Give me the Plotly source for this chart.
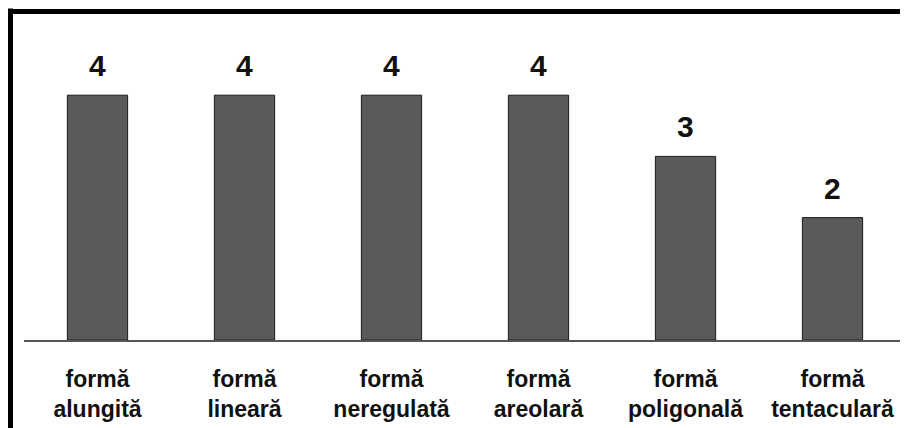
import plotly.graph_objects as go

categories = ["formă<br>alungită", "formă<br>lineară", "formă<br>neregulată",
              "formă<br>areolară", "formă<br>poligonală", "formă<br>tentaculară"]
values = [4, 4, 4, 4, 3, 2]

fig = go.Figure()
fig.add_trace(go.Bar(
    x=categories, y=values,
    marker=dict(color="#5a5a5a", line=dict(color="#1a1a1a", width=1)),
    hoverinfo="skip",
))

for c, v in zip(categories, values):
    fig.add_annotation(x=c, y=v, text=f"<b>{v}</b>", showarrow=False,
                       yanchor="bottom", yshift=11,
                       font=dict(family="Liberation Sans, Arial", size=30, color="#111"))

W, H = 900, 420
ml, mr, mt, mb = 16, 2, 26, 88
pw, ph = W - ml - mr, H - mt - mb

# outer frame (left and top edges), in paper coords
lx = (2.5 - ml) / pw
ty = 1 + (mt - 3.5) / ph
fig.add_shape(type="line", xref="paper", yref="paper", x0=lx, x1=lx, y0=-mb / ph - 0.05, y1=ty + 0.01,
              line=dict(color="black", width=5))
fig.add_shape(type="line", xref="paper", yref="paper", x0=lx - 0.01, x1=1 + mr / pw + 0.01, y0=ty, y1=ty,
              line=dict(color="black", width=5))

fig.update_layout(
    width=W, height=H,
    margin=dict(l=ml, r=mr, t=mt, b=mb),
    paper_bgcolor="white", plot_bgcolor="white",
    showlegend=False,
    bargap=0.59,
    xaxis=dict(showline=True, linecolor="#555", linewidth=2, ticks="",
               tickfont=dict(family="Liberation Sans, Arial", size=23, color="#111"),
               tickvals=categories,
               ticktext=["<b>" + c.replace("<br>", "</b><br><b>") + "</b>" for c in categories],
               range=[-0.5, 5.5], ticklabelstandoff=17, fixedrange=True),
    yaxis=dict(range=[0, 5], visible=False, fixedrange=True),
    font=dict(family="Liberation Sans, Arial"),
)

fig.write_html("out.html")
